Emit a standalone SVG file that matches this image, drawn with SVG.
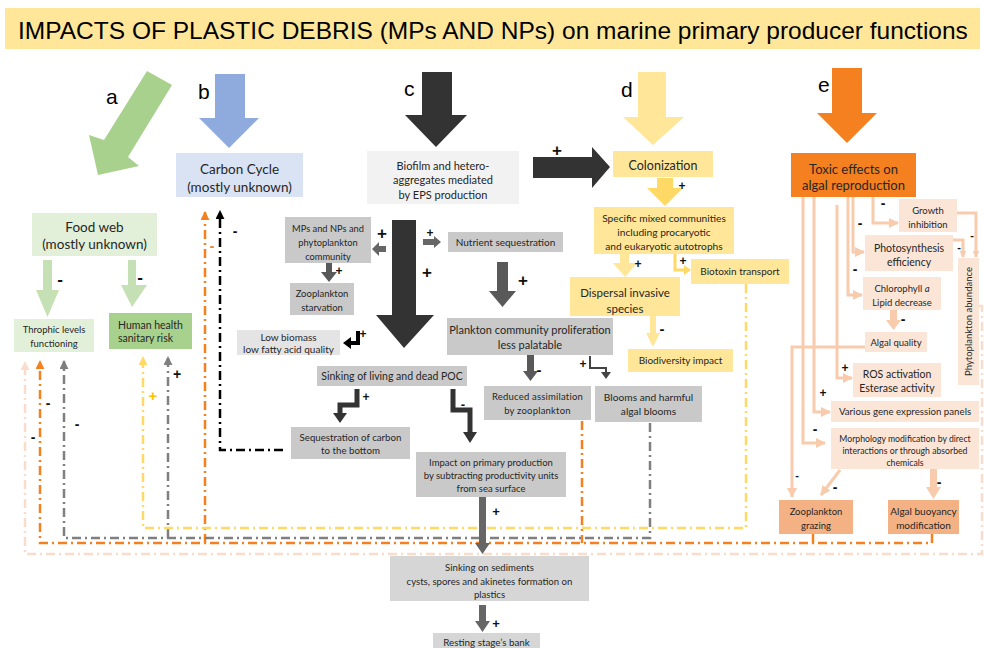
<svg xmlns="http://www.w3.org/2000/svg" width="984" height="648" viewBox="0 0 984 648">
<defs>
<style>
.t{font-family:Lato,"Liberation Sans",sans-serif;fill:#262626;text-anchor:middle}
.L{font-family:"Liberation Sans",Arial,sans-serif;fill:#000}
.s{font-family:"Liberation Sans",Arial,sans-serif;font-weight:bold;text-anchor:middle;dominant-baseline:central;fill:#111}
.dd{fill:none;stroke-width:2.5;stroke-dasharray:9 4 2 4}
.sal{fill:none;stroke:#F8CBAD;stroke-width:3}
.blk{fill:none;stroke:#333;stroke-width:5}
.gbox{fill:#C9C9C9}
.pbox{fill:#FBE5D6}
.ybox{fill:#FFE699}
</style>
<marker id="mg" viewBox="0 0 10 10" refX="9" refY="5" markerWidth="9" markerHeight="9" markerUnits="userSpaceOnUse" orient="auto"><path d="M0,0 L10,5 L0,10 z" fill="#7F7F7F"/></marker>
<marker id="mo" viewBox="0 0 10 10" refX="9" refY="5" markerWidth="9" markerHeight="9" markerUnits="userSpaceOnUse" orient="auto"><path d="M0,0 L10,5 L0,10 z" fill="#F4801F"/></marker>
<marker id="mp" viewBox="0 0 10 10" refX="9" refY="5" markerWidth="9" markerHeight="9" markerUnits="userSpaceOnUse" orient="auto"><path d="M0,0 L10,5 L0,10 z" fill="#FADCCB"/></marker>
<marker id="my" viewBox="0 0 10 10" refX="9" refY="5" markerWidth="9" markerHeight="9" markerUnits="userSpaceOnUse" orient="auto"><path d="M0,0 L10,5 L0,10 z" fill="#FFD966"/></marker>
<marker id="mk" viewBox="0 0 10 10" refX="9" refY="5" markerWidth="9" markerHeight="9" markerUnits="userSpaceOnUse" orient="auto"><path d="M0,0 L10,5 L0,10 z" fill="#000"/></marker>
<marker id="ms" viewBox="0 0 10 10" refX="9" refY="5" markerWidth="10" markerHeight="10" markerUnits="userSpaceOnUse" orient="auto"><path d="M0,0 L10,5 L0,10 z" fill="#F8CBAD"/></marker>
<marker id="ms2" viewBox="0 0 10 10" refX="9" refY="5" markerWidth="7" markerHeight="7" markerUnits="userSpaceOnUse" orient="auto"><path d="M0,0 L10,5 L0,10 z" fill="#F8CBAD"/></marker>
</defs>
<rect width="984" height="648" fill="#fff"/>

<g id="title">
<rect x="5" y="8" width="975" height="41" fill="#FFE699"/>
<text class="L" x="18" y="39" font-size="24.5">IMPACTS OF PLASTIC DEBRIS (MPs AND NPs) on marine primary producer functions</text>
</g>

<g id="connectors">
<path class="dd" stroke="#FADCCB" d="M979 306 H982 V554 H25 V362" marker-end="url(#mp)"/>
<path class="dd" stroke="#F4801F" d="M932 534 V543 H40 V361" marker-end="url(#mo)"/>
<path class="dd" stroke="#F4801F" d="M813 534 V543"/>
<path class="dd" stroke="#F4801F" d="M582 421 V543"/>
<path class="dd" stroke="#F4801F" d="M205 543 V212" marker-end="url(#mo)"/>
<path class="dd" stroke="#7F7F7F" d="M650 423 V538 H64 V361" marker-end="url(#mg)"/>
<path class="dd" stroke="#7F7F7F" d="M168 538 V357" marker-end="url(#mg)"/>
<path class="dd" stroke="#FFD966" d="M746 284 V528 H143 V357" marker-end="url(#my)"/>
<path class="dd" stroke="#000" stroke-width="3" d="M283 450 H220 V211" marker-end="url(#mk)"/>

<polygon fill="#A9D18E" points="147,71 172,85 128,157 139,166 98,175 89,135 104,140"/>
<polygon fill="#8FAADC" points="215,74 245,74 245,118 259,118 229,148 199,118 215,118"/>
<polygon fill="#333" points="422,72 452,72 452,115 467,115 436,147 405,115 422,115"/>
<polygon fill="#FFE699" points="638,72 666,72 666,117 684,117 653,145 623,117 638,117"/>
<polygon fill="#F4801F" points="832,68 862,68 862,113 877,113 847,143 817,113 832,113"/>

<polygon fill="#C5E0B4" points="43,260 52,260 52,290 59,290 47.5,317 36,290 43,290"/>
<polygon fill="#C5E0B4" points="128,260 136,260 136,285 147,285 132,307 121,285 128,285"/>

<polygon fill="#333" points="533,157 592,157 592,147 610,167 592,188 592,178 533,178"/>
<polygon fill="#333" points="392,220 416,220 416,315 434,315 404,348 376,315 392,315"/>
<polygon fill="#666" points="386,246 379,246 379,242 372,249 379,256 379,252 386,252"/>
<polygon fill="#666" points="423,239 434,239 434,236 441,242 434,248 434,245 423,245"/>
<polygon fill="#595959" points="326,263 332,263 332,272 337,272 329,282 321,272 326,272"/>
<polygon fill="#595959" points="497,262 508,262 508,291 516,291 502.5,307 489,291 497,291"/>
<polygon fill="#595959" points="527,355 534,355 534,371 538,371 530.5,381 523,371 527,371"/>
<polygon fill="#666" points="479,497 486,497 486,543 490,543 482.5,554 475,543 479,543"/>
<polygon fill="#666" points="479,605 486,605 486,621 490,621 482.5,632 475,621 479,621"/>
<path fill="none" stroke="#000" stroke-width="4" d="M358 331 V343 H351"/>
<polygon fill="#000" points="351,337 351,349 343,343"/>
<path class="blk" d="M357 389 V405 H340 V413"/>
<polygon fill="#333" points="333,413 347,413 340,423"/>
<path class="blk" d="M453 389 V410 H470 V432"/>
<polygon fill="#333" points="463,432 477,432 470,443"/>
<path fill="none" stroke="#444" stroke-width="2" d="M590 356 V368 H606 V373"/>
<polygon fill="#444" points="601,372 611,372 606,379"/>

<polygon fill="#FFD966" points="657,178 673,178 673,188 683,188 665,206 647,188 657,188"/>
<polygon fill="#FFE699" points="620,254 629,254 629,263 637,263 625,277 613,263 620,263"/>
<polygon fill="#FFE699" points="650,316 656,316 656,333 660,333 653,347 646,333 650,333"/>
<path fill="none" stroke="#FFD966" stroke-width="3" d="M675 254 V270 H684"/>
<polygon fill="#FFD966" points="684,265 684,275 691,270"/>

<path class="sal" d="M873 197 V223 H898" marker-end="url(#ms)"/>
<path class="sal" d="M853 197 V252 H864" marker-end="url(#ms)"/>
<path class="sal" d="M848 197 V295 H862" marker-end="url(#ms)"/>
<path class="sal" d="M837 205 V378 H852" marker-end="url(#ms)"/>
<path class="sal" d="M814 197 V412 H830" marker-end="url(#ms)"/>
<path class="sal" d="M803 197 V443 H825" marker-end="url(#ms)"/>
<path class="sal" stroke-width="2" d="M865 347 H792 V497" marker-end="url(#ms)"/>
<path class="sal" stroke-width="4" d="M840 470 L821 495" marker-end="url(#ms)"/>
<polygon fill="#F8CBAD" points="930,469 937,469 937,487 941,487 933.5,499 926,487 930,487"/>
<polygon fill="#F8CBAD" points="890,310 897,310 897,320 901,320 893.5,330 886,320 890,320"/>
<path class="sal" stroke-width="1.5" d="M957 213 H976 V257" marker-end="url(#ms2)"/>
<path class="sal" stroke-width="1.5" d="M953 240 H963 V257" marker-end="url(#ms2)"/>

<text class="s" x="557" y="150" font-size="17">+</text>
<text class="s" x="682" y="186" font-size="12">+</text>
<text class="s" x="638" y="264" font-size="12">+</text>
<text class="s" x="683" y="261" font-size="12">+</text>
<text class="s" x="662" y="328" font-size="15">-</text>
<text class="s" x="60" y="279" font-size="17">-</text>
<text class="s" x="140" y="277" font-size="17">-</text>
<text class="s" x="382" y="233" font-size="17">+</text>
<text class="s" x="427" y="272" font-size="17">+</text>
<text class="s" x="430" y="233" font-size="12">+</text>
<text class="s" x="339" y="271" font-size="12">+</text>
<text class="s" x="363" y="334" font-size="12">+</text>
<text class="s" x="523" y="280" font-size="17">+</text>
<text class="s" x="539" y="369" font-size="15">-</text>
<text class="s" x="583" y="364" font-size="12">+</text>
<text class="s" x="366" y="397" font-size="12">+</text>
<text class="s" x="463" y="404" font-size="13">-</text>
<text class="s" x="496" y="511" font-size="13">+</text>
<text class="s" x="496" y="623" font-size="13">+</text>
<text class="s" x="883" y="203" font-size="14">-</text>
<text class="s" x="860" y="223" font-size="14">-</text>
<text class="s" x="855" y="269" font-size="14">-</text>
<text class="s" x="845" y="368" font-size="12">+</text>
<text class="s" x="823" y="393" font-size="12">+</text>
<text class="s" x="815" y="429" font-size="14">-</text>
<text class="s" x="797" y="475" font-size="11">-</text>
<text class="s" x="835" y="487" font-size="14">-</text>
<text class="s" x="939" y="482" font-size="14">-</text>
<text class="s" x="903" y="319" font-size="14">-</text>
<text class="s" x="972" y="235" font-size="11">-</text>
<text class="s" x="959" y="247" font-size="11">-</text>
<text class="s" x="48" y="403" font-size="14">-</text>
<text class="s" x="77" y="424" font-size="14">-</text>
<text class="s" x="33" y="437" font-size="14">-</text>
<text class="s" x="153" y="395" font-size="15" style="fill:#FFC000">+</text>
<text class="s" x="177" y="374" font-size="14">+</text>
<text class="s" x="235" y="231" font-size="14">-</text>
<text class="s" x="212" y="246" font-size="14" style="fill:#F4801F">-</text>
</g>

<g id="labels">
<text class="L" x="106" y="104" font-size="21">a</text>
<text class="L" x="198" y="99" font-size="21">b</text>
<text class="L" x="404" y="96" font-size="21">c</text>
<text class="L" x="621" y="97" font-size="21">d</text>
<text class="L" x="818" y="92" font-size="21">e</text>
</g>

<g id="carbon-cycle">
<rect x="176" y="153" width="127" height="44" fill="#DAE3F3"/>
<text class="t" x="239.5" y="174" font-size="13.5">Carbon Cycle</text>
<text class="t" x="239.5" y="192" font-size="13.5">(mostly unknown)</text>
</g>
<g id="food-web">
<rect x="32" y="213" width="125" height="43" fill="#E2F0D9"/>
<text class="t" x="94.5" y="232" font-size="13.5">Food web</text>
<text class="t" x="94.5" y="249" font-size="13.5">(mostly unknown)</text>
</g>
<g id="throphic">
<rect x="14" y="319" width="80" height="33" fill="#E2F0D9"/>
<text class="t" x="54" y="333" font-size="9.5">Throphic levels</text>
<text class="t" x="54" y="347" font-size="9.5">functioning</text>
</g>
<g id="human-health">
<rect x="109" y="313" width="83" height="36" fill="#A9D18E"/>
<text class="t" x="118" y="329" font-size="10.5" style="text-anchor:start">Human health</text>
<text class="t" x="118" y="342" font-size="10.5" style="text-anchor:start">sanitary risk</text>
</g>
<g id="biofilm">
<rect x="367" y="151" width="152" height="53" fill="#F2F2F2"/>
<text class="t" x="443" y="170" font-size="11">Biofilm and hetero-</text>
<text class="t" x="443" y="184" font-size="11">aggregates mediated</text>
<text class="t" x="443" y="199" font-size="11">by EPS production</text>
</g>
<g id="mps-nps">
<rect x="285" y="217" width="86" height="46" class="gbox"/>
<text class="t" x="328" y="232" font-size="9.3">MPs and NPs and</text>
<text class="t" x="328" y="246" font-size="9.3">phytoplankton</text>
<text class="t" x="328" y="260" font-size="9.3">community</text>
</g>
<g id="zoo-starvation">
<rect x="290" y="283" width="64" height="32" class="gbox"/>
<text class="t" x="322" y="297" font-size="9.5">Zooplankton</text>
<text class="t" x="322" y="311" font-size="9.5">starvation</text>
</g>
<g id="low-biomass">
<rect x="237" y="330" width="103" height="25" fill="#E4E4E4"/>
<text class="t" x="288.5" y="341" font-size="10">Low biomass</text>
<text class="t" x="288.5" y="353" font-size="10">low fatty acid quality</text>
</g>
<g id="nutrient">
<rect x="448" y="232" width="115" height="20" class="gbox"/>
<text class="t" x="505.5" y="246" font-size="10">Nutrient sequestration</text>
</g>
<g id="plankton-community">
<rect x="447" y="318" width="166" height="37" class="gbox"/>
<text class="t" x="530" y="334" font-size="11">Plankton community proliferation</text>
<text class="t" x="530" y="349" font-size="11">less palatable</text>
</g>
<g id="sinking-poc">
<rect x="317" y="366" width="150" height="20" class="gbox"/>
<text class="t" x="392" y="380" font-size="10.5">Sinking of living and dead POC</text>
</g>
<g id="reduced-assim">
<rect x="484" y="386" width="107" height="34" class="gbox"/>
<text class="t" x="537.5" y="400" font-size="9.5" letter-spacing="0.2">Reduced assimilation</text>
<text class="t" x="537.5" y="414" font-size="9.5" letter-spacing="0.2">by zooplankton</text>
</g>
<g id="blooms">
<rect x="595" y="386" width="107" height="36" class="gbox"/>
<text class="t" x="648.5" y="401" font-size="10.2">Blooms and harmful</text>
<text class="t" x="648.5" y="415" font-size="10.2">algal blooms</text>
</g>
<g id="sequestration">
<rect x="291" y="427" width="119" height="32" class="gbox"/>
<text class="t" x="350.5" y="441" font-size="9.7">Sequestration of carbon</text>
<text class="t" x="350.5" y="454" font-size="9.7">to the bottom</text>
</g>
<g id="impact-pp">
<rect x="416" y="452" width="150" height="45" class="gbox"/>
<text class="t" x="491" y="466" font-size="9.5">Impact on primary production</text>
<text class="t" x="491" y="479" font-size="9.5">by subtracting productivity units</text>
<text class="t" x="491" y="492" font-size="9.5">from sea surface</text>
</g>
<g id="sinking-sediments">
<rect x="390" y="556" width="199" height="45" fill="#D6D6D6"/>
<text class="t" x="489.5" y="571" font-size="9.6">Sinking on sediments</text>
<text class="t" x="489.5" y="585" font-size="9.6">cysts, spores and akinetes formation on</text>
<text class="t" x="489.5" y="598" font-size="9.6">plastics</text>
</g>
<g id="resting">
<rect x="433" y="633" width="107" height="20" fill="#D6D6D6"/>
<text class="t" x="486.5" y="646" font-size="9.8">Resting stage’s bank</text>
</g>
<g id="colonization">
<rect x="613" y="151" width="100" height="26" class="ybox"/>
<text class="t" x="663" y="170" font-size="12.5">Colonization</text>
</g>
<g id="specific-mixed">
<rect x="594" y="207" width="140" height="47" class="ybox"/>
<text class="t" x="664" y="222" font-size="10.2">Specific mixed communities</text>
<text class="t" x="664" y="236" font-size="10.2">including procaryotic</text>
<text class="t" x="664" y="250" font-size="10.2">and eukaryotic autotrophs</text>
</g>
<g id="biotoxin">
<rect x="691" y="259" width="98" height="25" class="ybox"/>
<text class="t" x="740" y="275" font-size="10">Biotoxin transport</text>
</g>
<g id="dispersal">
<rect x="570" y="277" width="110" height="39" class="ybox"/>
<text class="t" x="625" y="297" font-size="11.5">Dispersal invasive</text>
<text class="t" x="625" y="313" font-size="11.5">species</text>
</g>
<g id="biodiversity">
<rect x="628" y="349" width="105" height="23" class="ybox"/>
<text class="t" x="680.5" y="364" font-size="10">Biodiversity impact</text>
</g>
<g id="toxic">
<rect x="791" y="153" width="125" height="44" fill="#F4801F"/>
<text class="t" x="853.5" y="174" font-size="13">Toxic effects on</text>
<text class="t" x="853.5" y="190" font-size="13">algal reproduction</text>
</g>
<g id="growth">
<rect x="899" y="199" width="58" height="33" class="pbox"/>
<text class="t" x="928" y="214" font-size="9.5">Growth</text>
<text class="t" x="928" y="228" font-size="9.5">inhibition</text>
</g>
<g id="photosynthesis">
<rect x="865" y="235" width="88" height="36" class="pbox"/>
<text class="t" x="909" y="252" font-size="10.5">Photosynthesis</text>
<text class="t" x="909" y="266" font-size="10.5">efficiency</text>
</g>
<g id="chlorophyll">
<rect x="863" y="277" width="78" height="33" class="pbox"/>
<text class="t" x="902" y="292" font-size="9.5">Chlorophyll <tspan font-style="italic">a</tspan></text>
<text class="t" x="902" y="306" font-size="9.5">Lipid decrease</text>
</g>
<g id="algal-quality">
<rect x="865" y="332" width="62" height="20" class="pbox"/>
<text class="t" x="896" y="346" font-size="9.5">Algal quality</text>
</g>
<g id="ros">
<rect x="853" y="363" width="88" height="34" class="pbox"/>
<text class="t" x="897" y="378" font-size="10.5">ROS activation</text>
<text class="t" x="897" y="392" font-size="10.5">Esterase activity</text>
</g>
<g id="gene-expression">
<rect x="831" y="401" width="148" height="21" class="pbox"/>
<text class="t" x="905" y="415" font-size="9.7">Various gene expression panels</text>
</g>
<g id="morphology">
<rect x="831" y="428" width="148" height="41" class="pbox"/>
<text class="t" x="905" y="442" font-size="8.7">Morphology modification by direct</text>
<text class="t" x="905" y="454" font-size="8.7">interactions or through absorbed</text>
<text class="t" x="905" y="466" font-size="8.7">chemicals</text>
</g>
<g id="phyto-abundance">
<rect x="958" y="258" width="21" height="127" class="pbox"/>
<text class="t" transform="translate(972 321.5) rotate(-90)" x="0" y="0" font-size="9.5">Phytoplankton abundance</text>
</g>
<g id="zoo-grazing">
<rect x="779" y="500" width="74" height="34" fill="#F4B183"/>
<text class="t" x="816" y="515" font-size="9.5">Zooplankton</text>
<text class="t" x="816" y="529" font-size="9.5">grazing</text>
</g>
<g id="algal-buoyancy">
<rect x="888" y="500" width="71" height="34" fill="#F4B183"/>
<text class="t" x="923.5" y="515" font-size="10">Algal buoyancy</text>
<text class="t" x="923.5" y="529" font-size="10">modification</text>
</g>
</svg>
